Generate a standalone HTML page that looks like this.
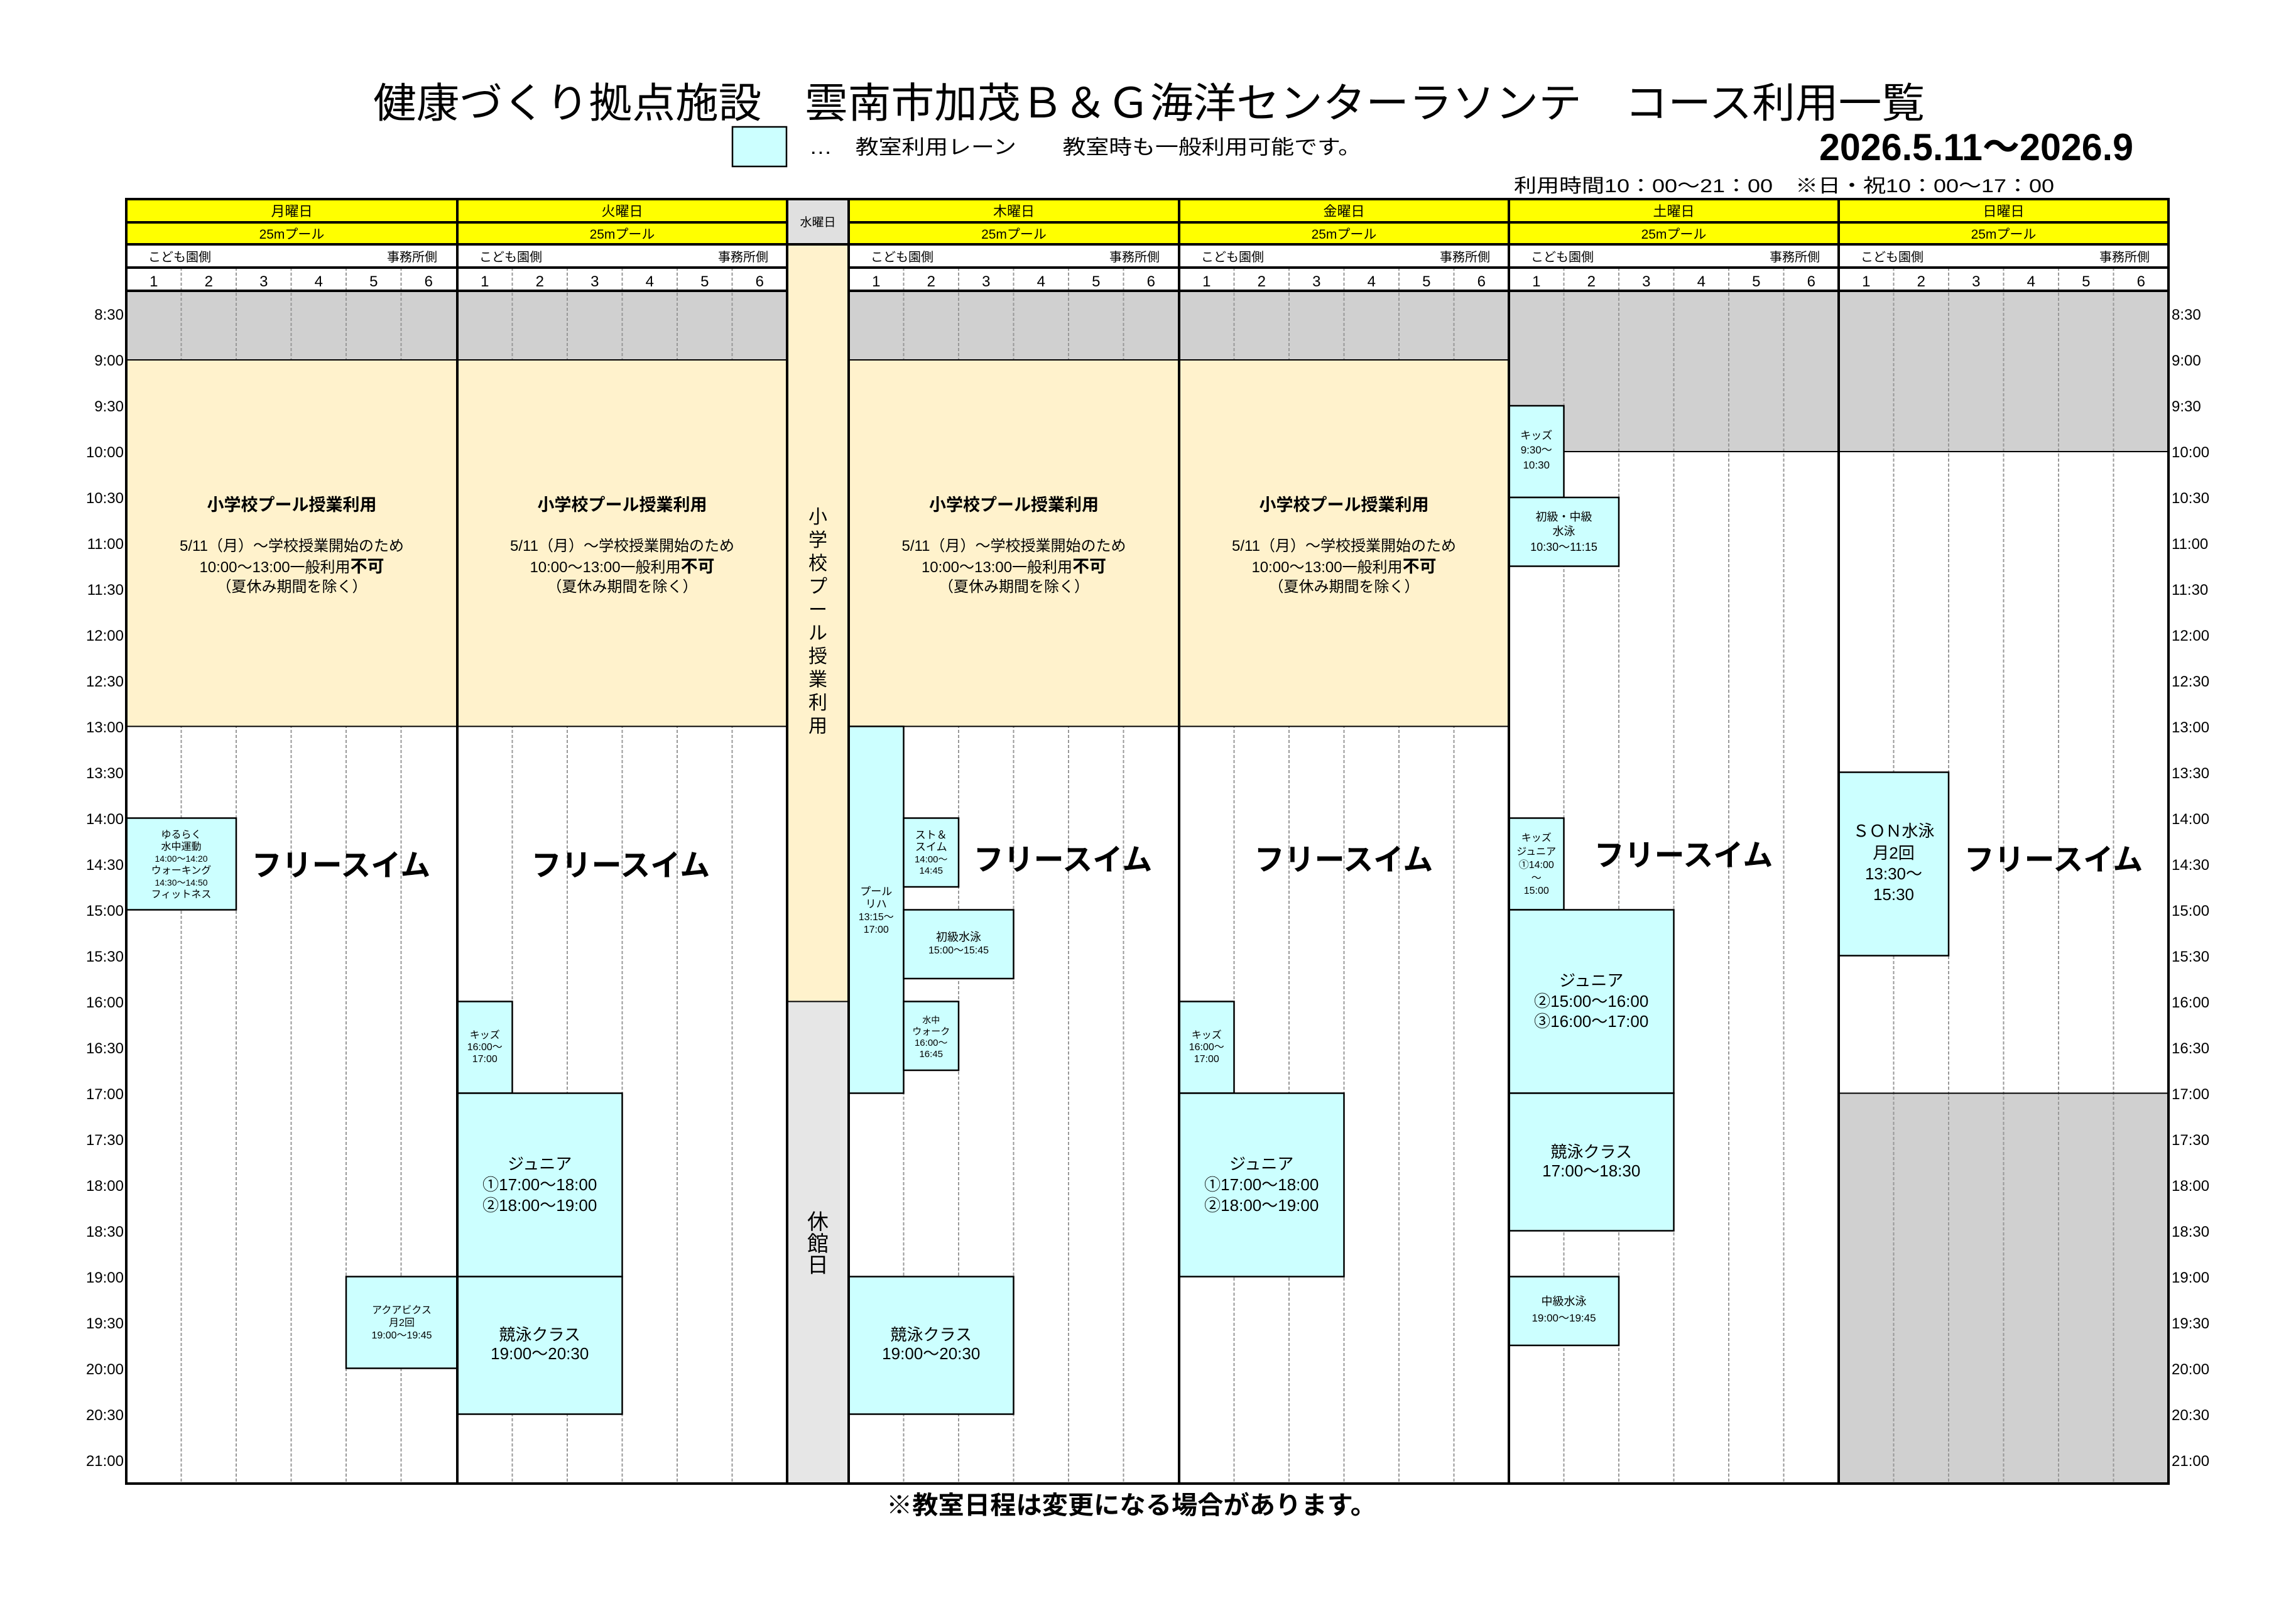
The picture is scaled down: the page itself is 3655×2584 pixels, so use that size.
<!DOCTYPE html>
<html><head><meta charset="utf-8"><style>
html,body{margin:0;padding:0;background:#fff;}
svg{display:block;}
text{font-family:"Liberation Sans","Noto Sans CJK JP",sans-serif;fill:#000;}
</style></head><body>
<svg width="3655" height="2584" viewBox="0 0 3655 2584" xmlns="http://www.w3.org/2000/svg">
<rect width="3655" height="2584" fill="#fff"/>
<!-- Title -->
<text x="594" y="187" font-size="66" textLength="2470" lengthAdjust="spacingAndGlyphs">健康づくり拠点施設　雲南市加茂Ｂ＆Ｇ海洋センターラソンテ　コース利用一覧</text>
<rect x="1166" y="202" width="86" height="63" fill="#CCFFFF" stroke="#000" stroke-width="2.5"/>
<text x="1288" y="245" font-size="32" textLength="879" lengthAdjust="spacingAndGlyphs">…　教室利用レーン　　教室時も一般利用可能です。</text>
<text x="2896" y="255" font-size="60" font-weight="bold" textLength="500" lengthAdjust="spacingAndGlyphs">2026.5.11～2026.9</text>
<text x="2410" y="306" font-size="30" textLength="860" lengthAdjust="spacingAndGlyphs">利用時間10：00～21：00　※日・祝10：00～17：00</text>

<!-- Header backgrounds -->
<rect x="201" y="317" width="3251" height="72" fill="#FFFF00"/>
<rect x="1253" y="317" width="98" height="72" fill="#E0E0E0"/>
<rect x="1253" y="389" width="98" height="1205.5" fill="#FFF2CC"/>
<rect x="1253" y="1594.5" width="98" height="766.5" fill="#E6E6E6"/>

<!-- Grey areas -->
<g fill="#D0D0D0">
<rect x="201" y="463" width="525" height="110"/>
<rect x="728" y="463" width="525" height="110"/>
<rect x="1351" y="463" width="526" height="110"/>
<rect x="1877" y="463" width="525" height="110"/>
<rect x="2402" y="463" width="525" height="256"/>
<rect x="2927" y="463" width="525" height="256"/>
<rect x="2927" y="1740.5" width="525" height="620.5"/>
</g>

<!-- lane dashed lines -->
<g stroke="#999" stroke-width="2" stroke-dasharray="5 3">
<line x1="288.5" y1="426" x2="288.5" y2="2361"/><line x1="376" y1="426" x2="376" y2="2361"/><line x1="463.5" y1="426" x2="463.5" y2="2361"/><line x1="551" y1="426" x2="551" y2="2361"/><line x1="638.5" y1="426" x2="638.5" y2="2361"/>
<line x1="815.5" y1="426" x2="815.5" y2="2361"/><line x1="903" y1="426" x2="903" y2="2361"/><line x1="990.5" y1="426" x2="990.5" y2="2361"/><line x1="1078" y1="426" x2="1078" y2="2361"/><line x1="1165.5" y1="426" x2="1165.5" y2="2361"/>
<line x1="1438.5" y1="426" x2="1438.5" y2="2361"/><line x1="1526" y1="426" x2="1526" y2="2361"/><line x1="1613.5" y1="426" x2="1613.5" y2="2361"/><line x1="1701" y1="426" x2="1701" y2="2361"/><line x1="1788.5" y1="426" x2="1788.5" y2="2361"/>
<line x1="1964.5" y1="426" x2="1964.5" y2="2361"/><line x1="2052" y1="426" x2="2052" y2="2361"/><line x1="2139.5" y1="426" x2="2139.5" y2="2361"/><line x1="2227" y1="426" x2="2227" y2="2361"/><line x1="2314.5" y1="426" x2="2314.5" y2="2361"/>
<line x1="2489.5" y1="426" x2="2489.5" y2="2361"/><line x1="2577" y1="426" x2="2577" y2="2361"/><line x1="2664.5" y1="426" x2="2664.5" y2="2361"/><line x1="2752" y1="426" x2="2752" y2="2361"/><line x1="2839.5" y1="426" x2="2839.5" y2="2361"/>
<line x1="3014.5" y1="426" x2="3014.5" y2="2361"/><line x1="3102" y1="426" x2="3102" y2="2361"/><line x1="3189.5" y1="426" x2="3189.5" y2="2361"/><line x1="3277" y1="426" x2="3277" y2="2361"/><line x1="3364.5" y1="426" x2="3364.5" y2="2361"/>
</g>

<!-- Peach school blocks -->
<g fill="#FFF2CC" stroke="#000" stroke-width="2">
<rect x="201" y="573" width="527" height="583.5"/>
<rect x="728" y="573" width="525" height="583.5"/>
<rect x="1351" y="573" width="526" height="583.5"/>
<rect x="1877" y="573" width="525" height="583.5"/>
</g>
<g font-size="24" text-anchor="middle">
<text x="464.5" y="813" font-size="27" font-weight="bold">小学校プール授業利用</text>
<text x="464.5" y="877">5/11（月）～学校授業開始のため</text>
<text x="464.5" y="911">10:00～13:00一般利用<tspan font-weight="bold" font-size="27">不可</tspan></text>
<text x="464.5" y="942">（夏休み期間を除く）</text>
<text x="990.5" y="813" font-size="27" font-weight="bold">小学校プール授業利用</text>
<text x="990.5" y="877">5/11（月）～学校授業開始のため</text>
<text x="990.5" y="911">10:00～13:00一般利用<tspan font-weight="bold" font-size="27">不可</tspan></text>
<text x="990.5" y="942">（夏休み期間を除く）</text>
<text x="1614" y="813" font-size="27" font-weight="bold">小学校プール授業利用</text>
<text x="1614" y="877">5/11（月）～学校授業開始のため</text>
<text x="1614" y="911">10:00～13:00一般利用<tspan font-weight="bold" font-size="27">不可</tspan></text>
<text x="1614" y="942">（夏休み期間を除く）</text>
<text x="2139.5" y="813" font-size="27" font-weight="bold">小学校プール授業利用</text>
<text x="2139.5" y="877">5/11（月）～学校授業開始のため</text>
<text x="2139.5" y="911">10:00～13:00一般利用<tspan font-weight="bold" font-size="27">不可</tspan></text>
<text x="2139.5" y="942">（夏休み期間を除く）</text>
</g>

<!-- grey boundary lines -->
<g stroke="#000" stroke-width="2">
<line x1="2402" y1="719" x2="3452" y2="719"/>
<line x1="2927" y1="1740.5" x2="3452" y2="1740.5"/>
<line x1="1253" y1="1594.5" x2="1351" y2="1594.5"/>
</g>

<!-- Class boxes -->
<g fill="#CCFFFF" stroke="#000" stroke-width="2.5">
<rect x="201" y="1302.5" width="175" height="146"/>
<rect x="551" y="2032.5" width="177" height="146"/>
<rect x="728" y="1594.5" width="87.5" height="146"/>
<rect x="728" y="1740.5" width="262.5" height="292"/>
<rect x="728" y="2032.5" width="262.5" height="219"/>
<rect x="1351" y="1156.5" width="87.5" height="584"/>
<rect x="1438.5" y="1302.5" width="87.5" height="109.5"/>
<rect x="1438.5" y="1448.5" width="175" height="109.5"/>
<rect x="1438.5" y="1594.5" width="87.5" height="109.5"/>
<rect x="1351" y="2032.5" width="262.5" height="219"/>
<rect x="1877" y="1594.5" width="87.5" height="146"/>
<rect x="1877" y="1740.5" width="262.5" height="292"/>
<rect x="2402" y="646" width="87.5" height="146"/>
<rect x="2402" y="792" width="175" height="109.5"/>
<rect x="2402" y="1302.5" width="87.5" height="146"/>
<rect x="2402" y="1448.5" width="262.5" height="292"/>
<rect x="2402" y="1740.5" width="262.5" height="219"/>
<rect x="2402" y="2032.5" width="175" height="109.5"/>
<rect x="2927" y="1229.5" width="175" height="292"/>
</g>
<g text-anchor="middle">
<g font-size="16">
<text x="288.5" y="1334">ゆるらく</text><text x="288.5" y="1353">水中運動</text><text x="288.5" y="1372" font-size="14">14:00～14:20</text><text x="288.5" y="1391">ウォーキング</text><text x="288.5" y="1410" font-size="14">14:30～14:50</text><text x="288.5" y="1429">フィットネス</text>
<text x="639.5" y="2091">アクアビクス</text><text x="639.5" y="2111">月2回</text><text x="639.5" y="2131">19:00～19:45</text>
<text x="771.75" y="1653">キッズ</text><text x="771.75" y="1672">16:00～</text><text x="771.75" y="1691">17:00</text>
<text x="1920.75" y="1653">キッズ</text><text x="1920.75" y="1672">16:00～</text><text x="1920.75" y="1691">17:00</text>
<text x="1394.75" y="1425" font-size="17">プール</text><text x="1394.75" y="1445" font-size="17">リハ</text><text x="1394.75" y="1465">13:15～</text><text x="1394.75" y="1485">17:00</text>
<text x="1482.25" y="1335" font-size="17">スト＆</text><text x="1482.25" y="1354" font-size="17">スイム</text><text x="1482.25" y="1373" font-size="15">14:00～</text><text x="1482.25" y="1391" font-size="15">14:45</text>
<text x="1526" y="1498" font-size="18">初級水泳</text><text x="1526" y="1518">15:00～15:45</text>
<text x="1482.25" y="1629" font-size="14">水中</text><text x="1482.25" y="1647" font-size="15">ウォーク</text><text x="1482.25" y="1665" font-size="15">16:00～</text><text x="1482.25" y="1683" font-size="15">16:45</text>
<text x="2445.75" y="699" font-size="17">キッズ</text><text x="2445.75" y="722" font-size="17">9:30～</text><text x="2445.75" y="746" font-size="17">10:30</text>
<text x="2489.5" y="829" font-size="18">初級・中級</text><text x="2489.5" y="852" font-size="18">水泳</text><text x="2489.5" y="877" font-size="18">10:30～11:15</text>
<text x="2445.75" y="1339">キッズ</text><text x="2445.75" y="1361">ジュニア</text><text x="2445.75" y="1382">①14:00</text><text x="2445.75" y="1403">～</text><text x="2445.75" y="1423">15:00</text>
<text x="2489.5" y="2078" font-size="18">中級水泳</text><text x="2489.5" y="2104" font-size="17">19:00～19:45</text>
</g>
<g font-size="26">
<text x="859.25" y="1862">ジュニア</text><text x="859.25" y="1895">①17:00～18:00</text><text x="859.25" y="1928">②18:00～19:00</text>
<text x="2008.25" y="1862">ジュニア</text><text x="2008.25" y="1895">①17:00～18:00</text><text x="2008.25" y="1928">②18:00～19:00</text>
<text x="859.25" y="2134">競泳クラス</text><text x="859.25" y="2164">19:00～20:30</text>
<text x="1482.25" y="2134">競泳クラス</text><text x="1482.25" y="2164">19:00～20:30</text>
<text x="2533.25" y="1570">ジュニア</text><text x="2533.25" y="1603">②15:00～16:00</text><text x="2533.25" y="1635">③16:00～17:00</text>
<text x="2533.25" y="1843">競泳クラス</text><text x="2533.25" y="1873">17:00～18:30</text>
<text x="3014.5" y="1332">ＳＯＮ水泳</text><text x="3014.5" y="1367">月2回</text><text x="3014.5" y="1400">13:30～</text><text x="3014.5" y="1433">15:30</text>
</g>
<g font-size="48" font-weight="bold">
<text x="543" y="1394">フリースイム</text>
<text x="988" y="1394">フリースイム</text>
<text x="1692" y="1385">フリースイム</text>
<text x="2139" y="1385">フリースイム</text>
<text x="2680" y="1378">フリースイム</text>
<text x="3269" y="1385">フリースイム</text>
</g>
<!-- Wednesday -->
<g font-size="30">
<text x="1302" y="833">小</text><text x="1302" y="870">学</text><text x="1302" y="907">校</text><text x="1302" y="944">プ</text><text x="1302" y="981">ー</text><text x="1302" y="1018">ル</text><text x="1302" y="1055">授</text><text x="1302" y="1092">業</text><text x="1302" y="1129">利</text><text x="1302" y="1166">用</text>
</g>
<g font-size="34"><text x="1302" y="1957">休</text><text x="1302" y="1992">館</text><text x="1302" y="2026">日</text></g>

<!-- header texts -->
<g font-size="22">
<text x="464.5" y="344">月曜日</text><text x="990.5" y="344">火曜日</text><text x="1614" y="344">木曜日</text><text x="2139.5" y="344">金曜日</text><text x="2664.5" y="344">土曜日</text><text x="3189.5" y="344">日曜日</text>
<text x="464.5" y="380" font-size="21">25mプール</text><text x="990.5" y="380" font-size="21">25mプール</text><text x="1614" y="380" font-size="21">25mプール</text><text x="2139.5" y="380" font-size="21">25mプール</text><text x="2664.5" y="380" font-size="21">25mプール</text><text x="3189.5" y="380" font-size="21">25mプール</text>
</g>
<g font-size="24">
<text x="244.75" y="456">1</text><text x="332.25" y="456">2</text><text x="419.75" y="456">3</text><text x="507.25" y="456">4</text><text x="594.75" y="456">5</text><text x="682.25" y="456">6</text>
<text x="771.75" y="456">1</text><text x="859.25" y="456">2</text><text x="946.75" y="456">3</text><text x="1034.25" y="456">4</text><text x="1121.75" y="456">5</text><text x="1209.25" y="456">6</text>
<text x="1394.75" y="456">1</text><text x="1482.25" y="456">2</text><text x="1569.75" y="456">3</text><text x="1657.25" y="456">4</text><text x="1744.75" y="456">5</text><text x="1832.25" y="456">6</text>
<text x="1920.75" y="456">1</text><text x="2008.25" y="456">2</text><text x="2095.75" y="456">3</text><text x="2183.25" y="456">4</text><text x="2270.75" y="456">5</text><text x="2358.25" y="456">6</text>
<text x="2445.75" y="456">1</text><text x="2533.25" y="456">2</text><text x="2620.75" y="456">3</text><text x="2708.25" y="456">4</text><text x="2795.75" y="456">5</text><text x="2883.25" y="456">6</text>
<text x="2970.75" y="456">1</text><text x="3058.25" y="456">2</text><text x="3145.75" y="456">3</text><text x="3233.25" y="456">4</text><text x="3320.75" y="456">5</text><text x="3408.25" y="456">6</text>
</g>
</g>
<g font-size="20">
<text x="236" y="416">こども園側</text><text x="696" y="416" text-anchor="end">事務所側</text>
<text x="763" y="416">こども園側</text><text x="1223" y="416" text-anchor="end">事務所側</text>
<text x="1386" y="416">こども園側</text><text x="1846" y="416" text-anchor="end">事務所側</text>
<text x="1912" y="416">こども園側</text><text x="2372" y="416" text-anchor="end">事務所側</text>
<text x="2437" y="416">こども園側</text><text x="2897" y="416" text-anchor="end">事務所側</text>
<text x="2962" y="416">こども園側</text><text x="3422" y="416" text-anchor="end">事務所側</text>
</g>

<!-- structural lines -->
<g stroke="#000" stroke-width="4" fill="none">
<rect x="201" y="317" width="3251" height="2045"/>
<line x1="201" y1="354" x2="1253" y2="354"/><line x1="1351" y1="354" x2="3452" y2="354"/>
<line x1="201" y1="389" x2="3452" y2="389"/>
<line x1="201" y1="426" x2="1253" y2="426"/><line x1="1351" y1="426" x2="3452" y2="426"/>
<line x1="201" y1="463" x2="1253" y2="463"/><line x1="1351" y1="463" x2="3452" y2="463"/>
<line x1="728" y1="317" x2="728" y2="2362"/>
<line x1="1253" y1="317" x2="1253" y2="2362"/>
<line x1="1351" y1="317" x2="1351" y2="2362"/>
<line x1="1877" y1="317" x2="1877" y2="2362"/>
<line x1="2402" y1="317" x2="2402" y2="2362"/>
<line x1="2927" y1="317" x2="2927" y2="2362"/>
</g>
<text x="1302" y="360" font-size="19" text-anchor="middle">水曜日</text>

<!-- time labels -->
<g font-size="24" text-anchor="end">
<text x="197" y="509">8:30</text><text x="197" y="582">9:00</text><text x="197" y="655">9:30</text><text x="197" y="728">10:00</text><text x="197" y="801">10:30</text><text x="197" y="874">11:00</text><text x="197" y="947">11:30</text><text x="197" y="1020">12:00</text><text x="197" y="1093">12:30</text><text x="197" y="1166">13:00</text><text x="197" y="1239">13:30</text><text x="197" y="1312">14:00</text><text x="197" y="1385">14:30</text><text x="197" y="1458">15:00</text><text x="197" y="1531">15:30</text><text x="197" y="1604">16:00</text><text x="197" y="1677">16:30</text><text x="197" y="1750">17:00</text><text x="197" y="1823">17:30</text><text x="197" y="1896">18:00</text><text x="197" y="1969">18:30</text><text x="197" y="2042">19:00</text><text x="197" y="2115">19:30</text><text x="197" y="2188">20:00</text><text x="197" y="2261">20:30</text><text x="197" y="2334">21:00</text>
</g>
<g font-size="24">
<text x="3457" y="509">8:30</text><text x="3457" y="582">9:00</text><text x="3457" y="655">9:30</text><text x="3457" y="728">10:00</text><text x="3457" y="801">10:30</text><text x="3457" y="874">11:00</text><text x="3457" y="947">11:30</text><text x="3457" y="1020">12:00</text><text x="3457" y="1093">12:30</text><text x="3457" y="1166">13:00</text><text x="3457" y="1239">13:30</text><text x="3457" y="1312">14:00</text><text x="3457" y="1385">14:30</text><text x="3457" y="1458">15:00</text><text x="3457" y="1531">15:30</text><text x="3457" y="1604">16:00</text><text x="3457" y="1677">16:30</text><text x="3457" y="1750">17:00</text><text x="3457" y="1823">17:30</text><text x="3457" y="1896">18:00</text><text x="3457" y="1969">18:30</text><text x="3457" y="2042">19:00</text><text x="3457" y="2115">19:30</text><text x="3457" y="2188">20:00</text><text x="3457" y="2261">20:30</text><text x="3457" y="2334">21:00</text>
</g>

<text x="1411" y="2410" font-size="40" font-weight="bold" textLength="780" lengthAdjust="spacingAndGlyphs">※教室日程は変更になる場合があります。</text>
</svg>
</body></html>
